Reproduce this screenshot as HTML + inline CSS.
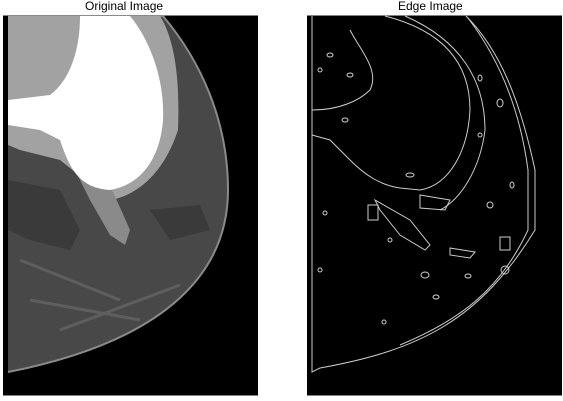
<!DOCTYPE html>
<html><head><meta charset="utf-8"><style>
body{margin:0;background:#fff;width:563px;height:401px;overflow:hidden;font-family:"Liberation Sans","DejaVu Sans",sans-serif}
.t{position:absolute;top:0px;font-size:12px;line-height:13px;color:#000}
</style></head><body>
<div class="t" style="left:85px">Original Image</div>
<div class="t" style="left:398px">Edge Image</div>
<svg width="563" height="401" style="position:absolute;left:0;top:0">
<g>
<rect x="3" y="15.5" width="255" height="380" fill="#000"/>
<path d="M8,16 L163,16 C200,60 228,120 228,190 C228,270 170,340 8,372 Z" fill="#484848"/>
<path d="M8,16 L163,16 C200,60 228,120 228,190 C228,270 170,340 8,372" fill="none" stroke="#8a8a8a" stroke-width="2"/>
<path d="M8,16 L160,16 C175,40 180,80 178,130 C165,170 140,195 110,200 L60,160 L20,150 L8,145 Z" fill="#a2a2a2"/>
<path d="M75,170 L110,185 L130,230 L125,245 L110,235 L90,200 Z" fill="#8a8a8a"/>
<path d="M80,16 L130,16 C150,40 165,80 163,120 C160,160 140,185 110,190 C80,188 70,170 60,140 L40,130 L8,125 L8,100 L50,95 C70,80 80,50 80,16 Z" fill="#fff"/>
<path d="M8,180 L60,190 L80,230 L70,250 L30,240 L8,230 Z" fill="#3a3a3a"/>
<path d="M150,210 L200,205 L210,230 L170,240 Z" fill="#3a3a3a"/>
<path d="M20,260 L120,300 M30,300 L140,320 M60,330 L180,285" stroke="#5e5e5e" stroke-width="3"/>
</g>
<g>
<rect x="307" y="15.5" width="255" height="380" fill="#000"/>
<g fill="none" stroke="#ccc" stroke-width="1">
<path d="M312,16 L312,372 L320,368 C420,350 480,320 535,230 L535,170 C520,100 500,50 466,16"/>
<path d="M468,18 C500,60 520,110 528,170 L528,230 C500,290 460,320 400,345"/>
<path d="M385,16 C440,30 470,60 470,110 C468,150 450,185 420,190 L400,188 C380,185 365,175 350,160 L330,140 L312,135"/>
<path d="M405,16 C460,40 485,80 485,130 C480,170 460,200 440,210"/>
<path d="M312,110 C340,110 360,100 370,90 C380,70 360,50 350,30"/>
<path d="M375,200 L410,220 L430,245 L425,250 L400,235 L380,210 Z"/>
<path d="M420,195 L450,200 L445,210 L420,208 Z"/>
<path d="M450,248 L475,252 L470,258 L450,255 Z"/>
<path d="M368,205 L378,205 L378,220 L368,220 Z"/>
<path d="M500,237 L510,237 L510,250 L500,250 Z"/>
</g>
<g fill="none" stroke="#ccc" stroke-width="1">
<ellipse cx="320" cy="70" rx="2" ry="2"/><ellipse cx="330" cy="55" rx="3" ry="2"/>
<ellipse cx="350" cy="75" rx="3" ry="2"/><ellipse cx="345" cy="120" rx="3" ry="2"/>
<ellipse cx="325" cy="213" rx="2" ry="2"/><ellipse cx="384" cy="322" rx="2" ry="2"/>
<ellipse cx="410" cy="175" rx="4" ry="2"/><ellipse cx="480" cy="135" rx="2" ry="2"/>
<ellipse cx="490" cy="205" rx="3" ry="3"/><ellipse cx="512" cy="185" rx="2" ry="3"/>
<ellipse cx="436" cy="297" rx="3" ry="2"/><ellipse cx="468" cy="276" rx="3" ry="2"/>
<ellipse cx="500" cy="103" rx="3" ry="4"/><ellipse cx="480" cy="78" rx="2" ry="3"/>
<ellipse cx="425" cy="275" rx="4" ry="3"/><ellipse cx="505" cy="270" rx="4" ry="4"/>
<ellipse cx="320" cy="270" rx="2" ry="2"/><ellipse cx="390" cy="240" rx="2" ry="2"/>
</g>
</g>
</svg>
</body></html>
